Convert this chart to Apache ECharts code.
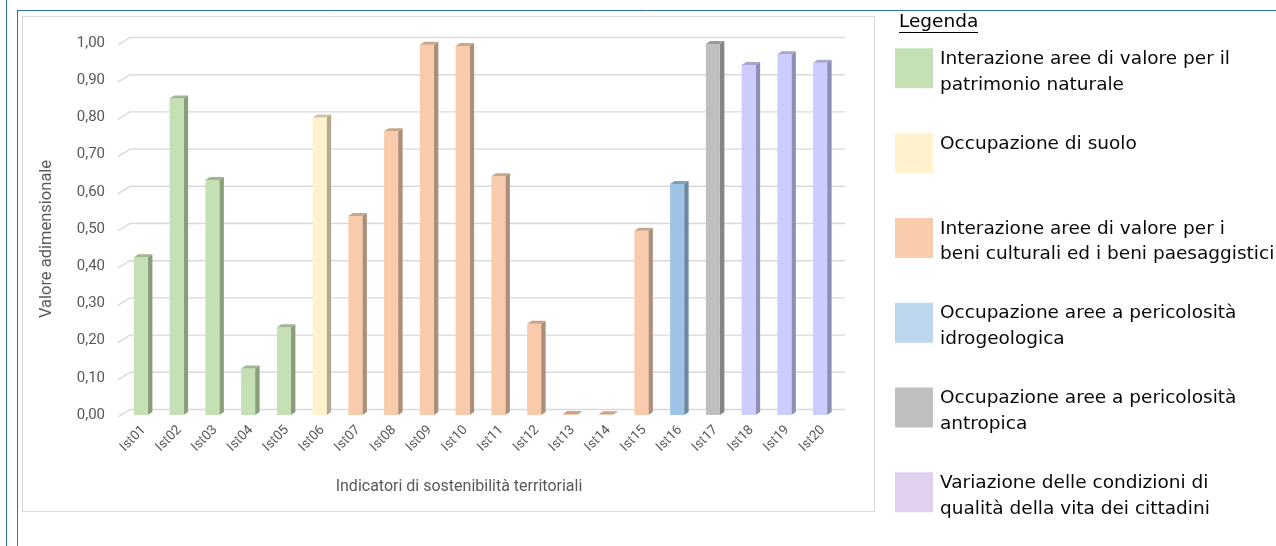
<!DOCTYPE html>
<html><head><meta charset="utf-8">
<script src="https://cdn.jsdelivr.net/npm/echarts@6/dist/echarts.min.js"></script>
<style>html,body{margin:0;padding:0;background:#fff;}#c{width:1276px;height:546px;}</style>
</head><body><div id="c"></div>
<script>
const categories = ['Ist01','Ist02','Ist03','Ist04','Ist05','Ist06','Ist07','Ist08','Ist09','Ist10','Ist11','Ist12','Ist13','Ist14','Ist15','Ist16','Ist17','Ist18','Ist19','Ist20'];
const values = [0.424,0.851,0.632,0.125,0.236,0.800,0.535,0.763,0.995,0.992,0.642,0.245,0.003,0.002,0.495,0.621,0.997,0.941,0.970,0.947];
const groupOf = [0,0,0,0,0,1,2,2,2,2,2,2,2,2,2,3,4,5,5,5];
const groupNames = [
  'Interazione aree di valore per il\npatrimonio naturale',
  'Occupazione di suolo',
  'Interazione aree di valore per i\nbeni culturali ed i beni paesaggistici',
  'Occupazione aree a pericolosità\nidrogeologica',
  'Occupazione aree a pericolosità\nantropica',
  'Variazione delle condizioni di\nqualità della vita dei cittadini'
];
const yTicks = [0,0.1,0.2,0.3,0.4,0.5,0.6,0.7,0.8,0.9,1.0];
const legendTitle = 'Legenda';
const xAxisTitle = 'Indicatori di sostenibilità territoriali';
const yAxisTitle = 'Valore adimensionale';

const barFront = ['#c5e0b4','#fff2cc','#f8cbad','#9dc3e6','#bfbfbf','#ccccff'];
const barSide  = ['#8a9e7c','#b3aa8f','#ad8e79','#6e89a1','#858585','#8f8fb3'];
const barTop   = ['#9fb58f','#cfc5a5','#c9a58c','#7f9fbd','#9a9a9a','#a5a5d0'];
const legendColors = ['#c5e0b4','#fff2cc','#f8cbad','#bdd7ee','#bfbfbf','#e2d0f0'];

const chart = echarts.init(document.getElementById('c'), null, {renderer:'canvas'});

const legendGraphics = [];
legendGraphics.push({type:'text', left:899, top:13, style:{text:legendTitle, font:'18.5px "DejaVu Sans"', fill:'#000'}});
legendGraphics.push({type:'line', shape:{x1:899,y1:32.5,x2:978,y2:32.5}, style:{stroke:'#000', lineWidth:1.2}});
groupNames.forEach((n,k)=>{
  const top = 48.3 + k*84.8;
  legendGraphics.push({type:'rect', shape:{x:895,y:top,width:38,height:40}, style:{fill:legendColors[k]}});
  legendGraphics.push({type:'text', x:940, y:top-2, style:{text:n, font:'18.5px "DejaVu Sans"', lineHeight:25.7, fill:'#0a0a0a', verticalAlign:'top'}});
});

const option = {
  backgroundColor:'#fff',
  animation:false,
  grid:{left:123, right:438, top:43, bottom:131},
  xAxis:{type:'category', data:categories,
    axisLine:{show:false}, axisTick:{show:false}, axisLabel:{show:false},
    name:xAxisTitle, nameLocation:'middle', nameGap:64,
    nameTextStyle:{color:'#595959', fontFamily:'Roboto', fontSize:16, padding:[0,43,0,0]}
  },
  yAxis:{type:'value', min:0, max:1, interval:0.1,
    splitLine:{show:false}, axisLine:{show:false}, axisTick:{show:false},
    axisLabel:{margin:18, color:'#595959', fontFamily:'Roboto', fontSize:15, padding:[8,0,0,0],
      formatter:v=>v.toFixed(2).replace('.',',')},
    name:yAxisTitle, nameLocation:'middle', nameGap:68,
    nameTextStyle:{color:'#595959', fontFamily:'Roboto', fontSize:16.5, padding:[0,20,0,0]}
  },
  graphic:[
    {type:'rect', shape:{x:22.5,y:16.5,width:852,height:495}, style:{fill:'none', stroke:'#d9d9d9', lineWidth:1}, z:-1},
    {type:'line', shape:{x1:6.5,y1:0,x2:6.5,y2:546}, style:{stroke:'#2f6eb5', lineWidth:1}},
    {type:'line', shape:{x1:17.5,y1:10,x2:17.5,y2:546}, style:{stroke:'#2f6eb5', lineWidth:1}},
    {type:'line', shape:{x1:17,y1:10.5,x2:1276,y2:10.5}, style:{stroke:'#2f6eb5', lineWidth:1}},
    ...legendGraphics
  ],
  series:[
    {type:'custom', z:1, silent:true,
      data:yTicks.map(v=>[0,v]),
      renderItem(params, api){
        const cs = params.coordSys;
        const y = api.coord([0, api.value(1)])[1];
        return {type:'polyline', shape:{points:[[cs.x-5,y+2],[cs.x+7,y-5.5],[cs.x+cs.width+7,y-5.5]]},
          style:{stroke:'#d9d9d9', lineWidth:1.4, fill:null}};
      }
    },
    {type:'custom', z:3,
      data:values.map((v,i)=>[i,v,groupOf[i]]),
      renderItem(params, api){
        const i = api.value(0), v = api.value(1), g = api.value(2);
        const b = api.coord([i,0]), t = api.coord([i,v]);
        const w = 14, dx = 4.5, dy = 3, L = b[0]-w/2, R = b[0]+w/2;
        return {type:'group', children:[
          {type:'polygon', shape:{points:[[R,b[1]],[R,t[1]],[R+dx,t[1]-dy],[R+dx,b[1]-dy]]}, style:{fill:barSide[g]}},
          {type:'rect', shape:{x:L,y:t[1],width:w,height:b[1]-t[1]}, style:{fill:barFront[g]}},
          {type:'polygon', shape:{points:[[L,t[1]],[R,t[1]],[R+dx,t[1]-dy],[L+dx,t[1]-dy]]}, style:{fill:barTop[g]}}
        ]};
      }
    },
    {type:'custom', z:4, silent:true,
      data:categories.map((c,i)=>[i,0]),
      renderItem(params, api){
        const p = api.coord([api.value(0), 0]);
        return {type:'text', x:p[0]-2, y:p[1]+8, rotation:Math.PI/4,
          style:{text:categories[params.dataIndex], fill:'#595959', font:'13.5px Roboto', align:'right', verticalAlign:'top'}};
      }
    }
  ]
};
chart.setOption(option);
</script>
</body></html>
